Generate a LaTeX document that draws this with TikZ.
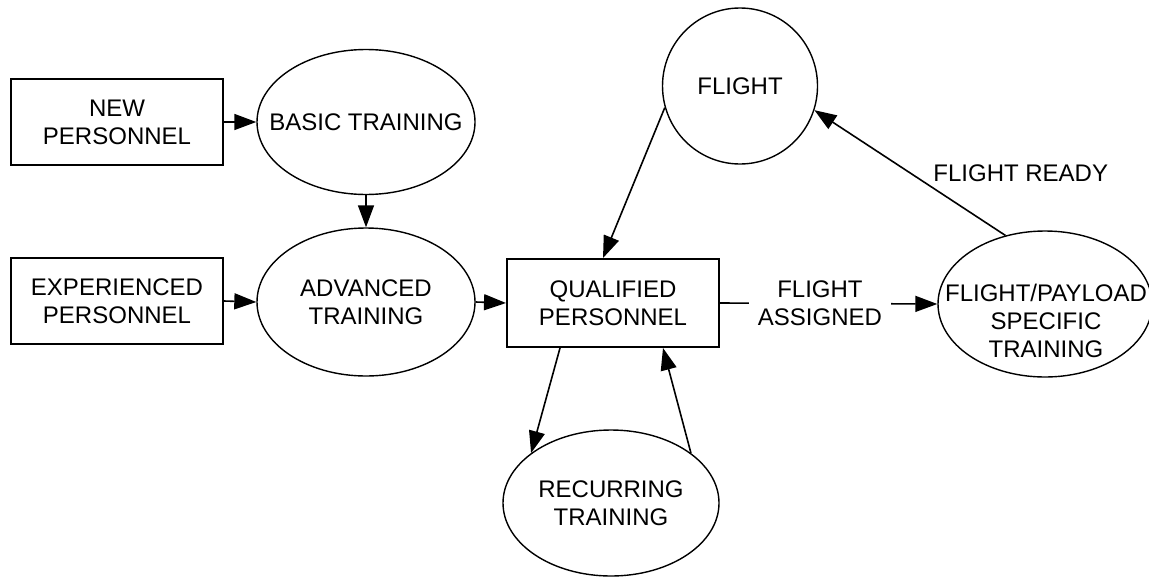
\documentclass[tikz,border=0pt]{standalone}
\usepackage{fontspec}
\setmainfont{Liberation Sans}
\usetikzlibrary{shapes.geometric,arrows.meta}

\begin{document}
\begin{tikzpicture}[x=0.5pt, y=-0.5pt,
    font=\fontsize{12}{14}\selectfont,
    box/.style={draw, line width=1pt, align=center, minimum width=106pt, minimum height=43pt},
    oval/.style={draw, ellipse, line width=0.7pt, align=center, inner sep=0pt},
    link/.style={line width=0.8pt, -{Triangle[length=11pt,width=8pt]}}]
\useasboundingbox (0,0) rectangle (1149,578);

% Personnel coming in
\node[box] at (117,122) (newp) {NEW\\PERSONNEL};
\node[box] at (117,301) (expp) {EXPERIENCED\\PERSONNEL};

% Training ovals
\node[oval, minimum width=109pt, minimum height=72.5pt, inner xsep=-12pt] at (366,122) (basic) {BASIC TRAINING};
\node[oval, minimum width=109pt, minimum height=74pt] at (366,302) (adv) {ADVANCED\\TRAINING};
\node[oval, minimum width=108pt, minimum height=73pt] at (611,503) (rec) {RECURRING\\TRAINING};
\node[oval, minimum width=107pt, minimum height=73pt] at (1045,304) (fpt) {};
\node[align=center, inner sep=0pt] at (1046,321) (fpttext) {FLIGHT/PAYLOAD\\SPECIFIC\\TRAINING};

% Qualified pool and flight
\node[box, minimum height=44pt] at (613,303) (qual) {QUALIFIED\\PERSONNEL};
\node[oval, minimum width=77.5pt, minimum height=78pt] at (740,86) (flight) {FLIGHT};

% Arrows
\draw[link] (newp.east) -- (basic.west);
\draw[link] (basic.south) -- (adv.north);
\draw[link] (expp.east) -- (adv.west);
\draw[link] (adv.east) -- (qual.west);
\draw[link] (qual.east) -- node[pos=0.46, fill=white, align=center, inner xsep=4.5pt] (asg) {FLIGHT\\ASSIGNED} (fpt.west);
\draw[link] (fpt.120) -- node[pos=0.5, anchor=west, xshift=8pt] (ready) {FLIGHT READY} (flight.342);
\draw[link] (flight.196) -- ([xshift=-5pt]qual.north);
\draw[link] ([xshift=-26.5pt]qual.south) -- (rec.148);
\draw[link] (rec.32) -- ([xshift=25pt]qual.south);
\end{tikzpicture}
\end{document}
